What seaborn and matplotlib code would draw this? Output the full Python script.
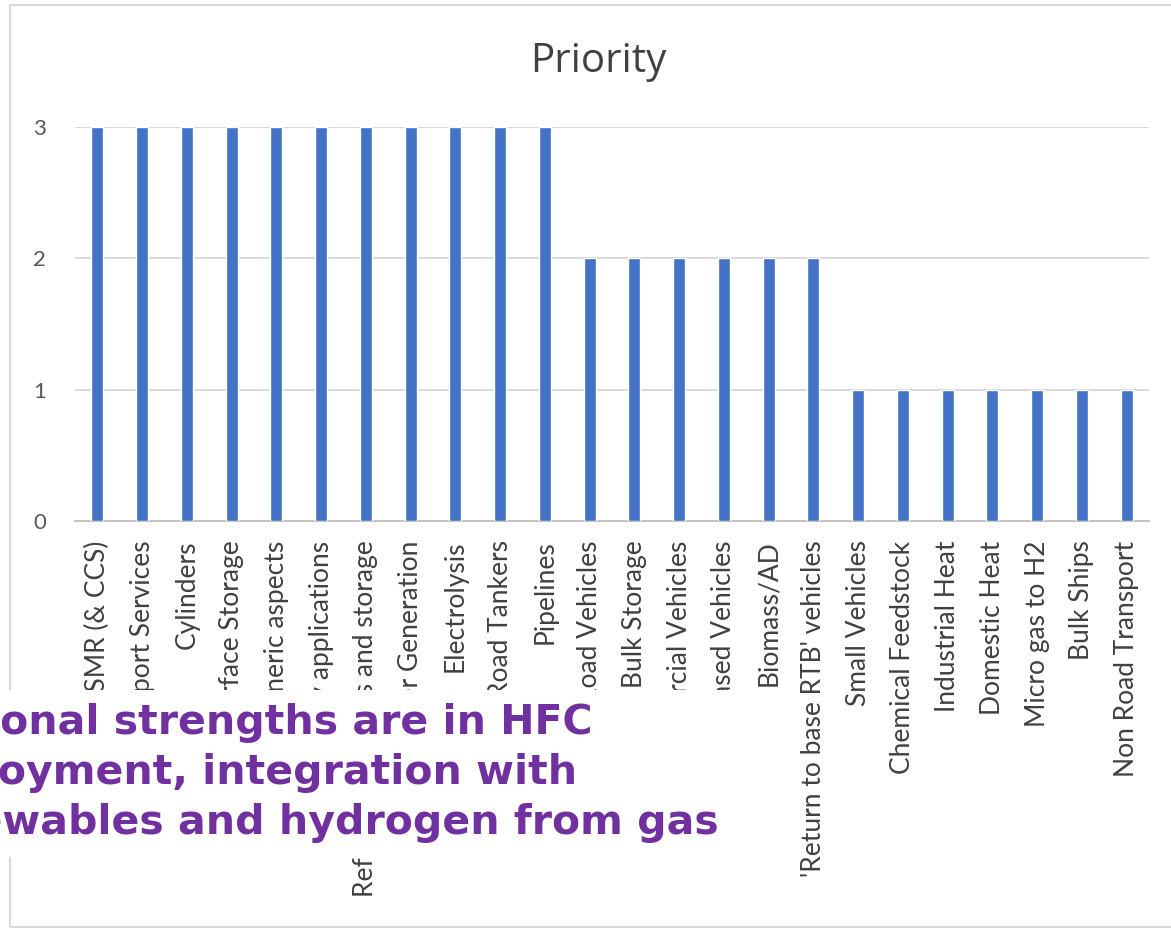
import matplotlib
matplotlib.use("Agg")
import matplotlib.pyplot as plt
from matplotlib.patches import Rectangle
import pandas as pd
import seaborn as sns

# Technology areas and their priority score
categories = [
    "H2 from SMR (& CCS)",
    "Hydrogen Support Services",
    "Cylinders",
    "Surface Storage",
    "Generic aspects",
    "Stationary applications",
    "Refuelling stations and storage",
    "Power Generation",
    "Electrolysis",
    "Road Tankers",
    "Pipelines",
    "Road Vehicles",
    "Bulk Storage",
    "Commercial Vehicles",
    "Depot Based Vehicles",
    "Biomass/AD",
    "'Return to base RTB' vehicles",
    "Small Vehicles",
    "Chemical Feedstock",
    "Industrial Heat",
    "Domestic Heat",
    "Micro gas to H2",
    "Bulk Ships",
    "Non Road Transport",
]
priority = [3, 3, 3, 3, 3, 3, 3, 3, 3, 3, 3,
            2, 2, 2, 2, 2, 2,
            1, 1, 1, 1, 1, 1, 1]
y_ticks = [0, 1, 2, 3]
chart_title = "Priority"
callout = ("Regional strengths are in HFC\n"
           "deployment, integration with\n"
           "renewables and hydrogen from gas")
callout_cut = "Regi"

df = pd.DataFrame({"category": categories, "priority": priority})

sns.set_theme(style="white")
plt.rcParams["font.family"] = ["Lato", "DejaVu Sans"]

W, H = 1171, 931
fig = plt.figure(figsize=(W / 100, H / 100), dpi=100)
fig.patch.set_facecolor("white")

def px(x0, y0, x1, y1):
    # figure-fraction rectangle from pixel box (top-left origin)
    return [x0 / W, 1 - y1 / H, (x1 - x0) / W, (y1 - y0) / H]

ax = fig.add_axes(px(75, 127, 1149, 521))
sns.barplot(data=df, x="category", y="priority", color="#4472C4",
            saturation=1, width=0.27, ax=ax, zorder=3)

ax.set_xlim(-0.5, len(categories) - 0.5)
ax.set_ylim(0, 3)
ax.set_yticks(y_ticks)
ax.set_yticklabels([str(v) for v in y_ticks], fontsize=16, color="#595959")
ax.set_xlabel("")
ax.set_ylabel("")
for s in ["top", "right", "left"]:
    ax.spines[s].set_visible(False)
ax.spines["bottom"].set_color("#BFBFBF")
ax.spines["bottom"].set_linewidth(1.3)
ax.yaxis.grid(True, color="#D9D9D9", linewidth=1.4, zorder=0)
ax.xaxis.grid(False)
ax.set_axisbelow(True)
ax.tick_params(axis="y", length=0, pad=21)
ax.tick_params(axis="x", length=0, pad=14)
ax.set_xticks(range(len(categories)))
ax.set_xticklabels(categories, rotation=90, ha="center", va="top",
                   fontsize=19, color="#404040")

fig.text(598 / W, 1 - 62 / H, chart_title, ha="center", va="center",
         fontsize=29, color="#404040", family=["Open Sans", "DejaVu Sans"])

# light chart frame
fig.add_artist(Rectangle((10 / W, 1 - 927 / H), 1.2, (927 - 5) / H,
                         transform=fig.transFigure, fill=False,
                         edgecolor="#D9D9D9", linewidth=1.5, zorder=1))

# white panel holding the callout text, laid over the lower labels
fig.add_artist(Rectangle((0, 1 - 857 / H), 790 / W, (857 - 690) / H,
                         transform=fig.transFigure, facecolor="white",
                         edgecolor="none", zorder=5))

font_kw = dict(fontsize=29.5, fontweight="bold", color="#7030A0",
               family=["DejaVu Sans"], linespacing=1.33)
renderer = fig.canvas.get_renderer()
probe = fig.text(0, 0, callout_cut, **font_kw)
cut_w = probe.get_window_extent(renderer).width
probe.remove()
fig.text(-cut_w / W, 1 - 703 / H, callout, ha="left", va="top",
         zorder=6, **font_kw)

fig.savefig("out.png", dpi=100, facecolor="white")
